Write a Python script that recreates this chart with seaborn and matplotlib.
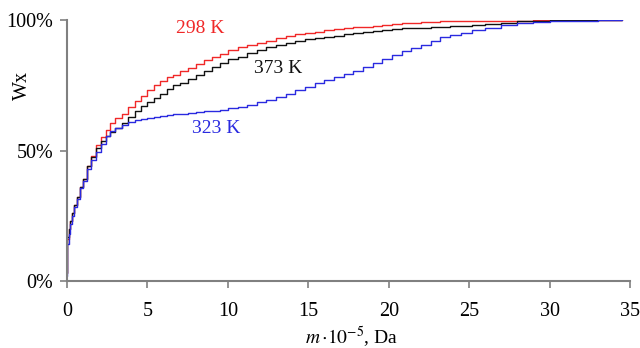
import numpy as np
import pandas as pd
import matplotlib
matplotlib.use("Agg")
import matplotlib.pyplot as plt
import seaborn as sns

# shared x grid (m * 10^-5, Da)
m_values = [0, 0.03, 0.1, 0.2, 0.3, 0.45, 0.6, 0.8, 1.0, 1.25,
            1.5, 1.8, 2.1, 2.4, 2.7, 3.0, 3.4, 3.8, 4.2, 4.6,
            5.0, 5.4, 5.8, 6.2, 6.6, 7.0, 7.5, 8.0, 8.5, 9.0,
            9.5, 10.0, 10.6, 11.2, 11.8, 12.4, 13.0, 13.6, 14.2, 14.8,
            15.4, 16.0, 16.6, 17.2, 17.8, 18.4, 19.0, 19.6, 20.2, 20.8,
            21.4, 22.0, 22.6, 23.2, 23.8, 24.5, 25.2, 26.0, 27.0, 28.0,
            29.0, 30.0, 31.0, 32.0, 33.0, 34.5]

wx_298 = [3, 16, 20, 23, 26, 29, 32, 36, 39, 44,
          48, 52, 55, 58, 60.5, 62.5, 64, 66.5, 69, 71,
          73, 75, 76.5, 78, 79, 80.5, 81.5, 83, 84.5, 86,
          87, 88.5, 89.5, 90.5, 91.3, 92, 93, 93.8, 94.5, 95,
          95.5, 96, 96.4, 96.8, 97.2, 97.5, 97.8, 98, 98.4, 98.7,
          99, 99.2, 99.4, 99.5, 99.6, 99.7, 99.7, 99.8, 99.8, 99.8,
          99.9, 100, 100, 100, 100, 100]

wx_373 = [3, 17, 20, 23, 26, 29, 32, 36, 39, 44,
          47.5, 51, 53.5, 55.5, 57, 58.5, 60.5, 63, 65, 67,
          68.5, 70, 71.5, 73.5, 75, 76, 77.5, 79, 80.5, 82,
          83.5, 85, 86, 87.3, 88.5, 89.5, 90.5, 91.3, 92, 92.6,
          93.2, 93.6, 94, 94.6, 95, 95.4, 95.8, 96.2, 96.5, 96.8,
          97, 97.1, 97.2, 97.3, 97.6, 97.8, 98.1, 98.5, 99, 99.5,
          99.7, 99.9, 100, 100, 100, 100]

wx_323 = [2, 14, 18, 22, 25, 28.5, 31.5, 35.5, 38.5, 43,
          46.5, 49.5, 52.5, 55.5, 57.5, 58.5, 59.8, 60.8, 61.5, 62,
          62.5, 62.9, 63.2, 63.5, 63.8, 64.1, 64.4, 64.7, 65, 65.3,
          65.7, 66.1, 66.6, 67.5, 68.5, 69.5, 70.5, 71.8, 73, 74.5,
          76, 77, 78.3, 79.3, 80.5, 82, 83.5, 85, 86.5, 88,
          89.3, 90.5, 92, 93.3, 94.2, 95.2, 96, 97, 98, 98.7,
          99.2, 99.5, 99.7, 99.8, 99.9, 100]

series_names = ["298 K", "373 K", "323 K"]
series_colors = ["#f02828", "#111111", "#2a2ae0"]
label_pos = [(8.27, 96.9), (13.1, 81.6), (9.3, 58.6)]

df = pd.concat([
    pd.DataFrame({"m": m_values, "wx": vals, "T": name})
    for name, vals in zip(series_names, [wx_298, wx_373, wx_323])
])

sns.set_theme(style="white")
plt.rcParams["font.family"] = ["Liberation Serif", "DejaVu Serif"]
plt.rcParams["mathtext.fontset"] = "stix"

fig = plt.figure(figsize=(6.4, 3.48), dpi=100)
ax = fig.add_axes([67/640, 1-281/348, (630-67)/640, (281-20)/348])

sns.lineplot(data=df, x="m", y="wx", hue="T", hue_order=series_names,
             palette=dict(zip(series_names, series_colors)),
             estimator=None, sort=False, drawstyle="steps-post",
             linewidth=1.0, legend=False, ax=ax)

ax.set_xlim(0, 35)
ax.set_ylim(0, 100)
ax.set_xticks([0, 5, 10, 15, 20, 25, 30, 35])
ax.set_yticks([0, 50, 100])
ax.set_yticklabels(["0%", "50%", "100%"])

for s in ["top", "right"]:
    ax.spines[s].set_visible(False)
for s in ["left", "bottom"]:
    ax.spines[s].set_color("#808080")
    ax.spines[s].set_linewidth(1.5)

ax.tick_params(axis="both", colors="#808080", labelcolor="black",
               labelsize=14.5, length=5, width=1.2, direction="out")
ax.tick_params(axis="x", pad=10, bottom=True)
ax.tick_params(axis="y", pad=5, left=True)

ax.set_xlabel(r"$m\,{\cdot}10^{-5}$, Da", fontsize=14, color="black")
ax.set_ylabel("Wx", fontsize=14.5, color="black")
ax.yaxis.set_label_coords(-0.062, 0.75)
ax.xaxis.set_label_coords(0.505, -0.165)

for name, col, (x, y) in zip(series_names, series_colors, label_pos):
    ax.text(x, y, name, color=col, fontsize=14, ha="center", va="center")

fig.savefig("out.png", dpi=100)
